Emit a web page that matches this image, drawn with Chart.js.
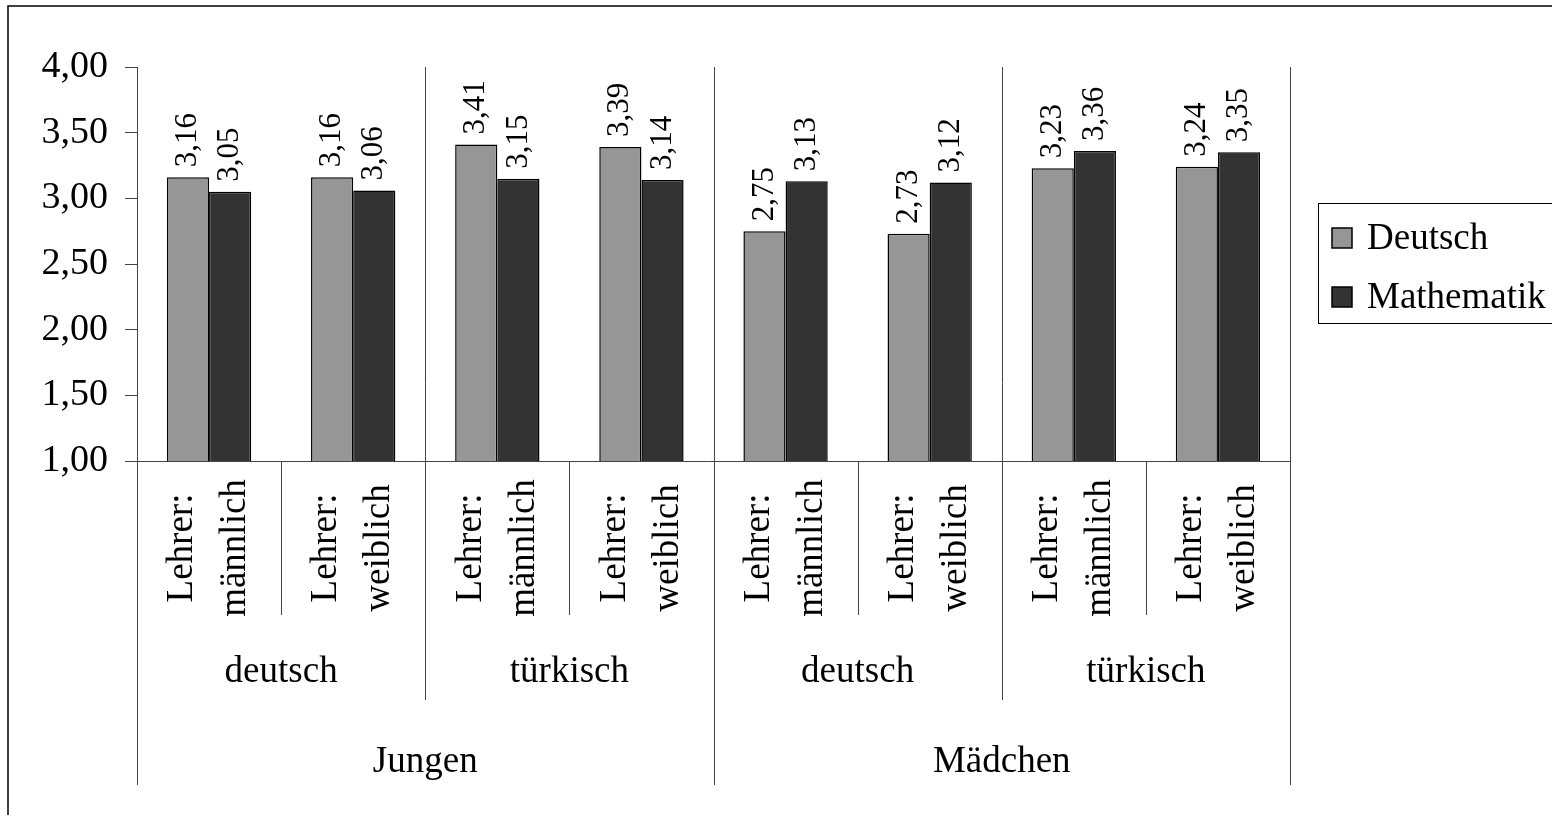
<!DOCTYPE html>
<html><head><meta charset="utf-8">
<script src="https://cdn.jsdelivr.net/npm/chart.js@4/dist/chart.umd.min.js"></script>
<style>html,body{margin:0;padding:0;background:#fff;}canvas{display:block}</style>
</head><body>
<canvas id="c" width="1552" height="815"></canvas>
<script>
// ---- data ----
const teacherLabels = [
  ['Lehrer:', 'männlich'], ['Lehrer:', 'weiblich'],
  ['Lehrer:', 'männlich'], ['Lehrer:', 'weiblich'],
  ['Lehrer:', 'männlich'], ['Lehrer:', 'weiblich'],
  ['Lehrer:', 'männlich'], ['Lehrer:', 'weiblich']
];
const originGroups = ['deutsch', 'türkisch', 'deutsch', 'türkisch'];
const genderGroups = ['Jungen', 'Mädchen'];
const seriesNames = ['Deutsch', 'Mathematik'];
const deutschValues = [3.16, 3.16, 3.41, 3.39, 2.75, 2.73, 3.23, 3.24];
const matheValues   = [3.05, 3.06, 3.15, 3.14, 3.13, 3.12, 3.36, 3.35];
const yMin = 1, yMax = 4, yStep = 0.5;

const FONT = '"Liberation Serif", "Times New Roman", serif';
const fmt = v => v.toFixed(2).replace('.', ',');
const colors = ['#969696', '#333333'];
const lineCol = '#444444';

const overlay = {
  id: 'overlay',
  afterDraw(chart) {
    const ctx = chart.ctx, ca = chart.chartArea;
    const xs = chart.scales.x;
    const n = teacherLabels.length;
    const bx = i => {
      if (i <= 0) return ca.left;
      if (i >= n) return ca.right;
      return (xs.getPixelForValue(i - 1) + xs.getPixelForValue(i)) / 2;
    };
    const yL1 = 615, yL2 = 700, yL3 = 785;
    ctx.save();
    // outer border
    ctx.strokeStyle = '#000'; ctx.lineWidth = 1.5;
    ctx.beginPath(); ctx.moveTo(8, 815); ctx.lineTo(8, 6); ctx.lineTo(1552, 6); ctx.stroke();
    // axis lines & separators
    ctx.strokeStyle = lineCol; ctx.lineWidth = 1;
    const vline = (x, y0, y1) => { x = Math.round(x) + 0.5; ctx.beginPath(); ctx.moveTo(x, y0); ctx.lineTo(x, y1); ctx.stroke(); };
    vline(ca.left, ca.top, yL3);
    vline(ca.right, ca.top, yL3);
    for (let i = 1; i < n; i++) {
      if (i % 4 === 0) vline(bx(i), ca.top, yL3);
      else if (i % 2 === 0) vline(bx(i), ca.top, yL2);
      else vline(bx(i), ca.bottom, yL1);
    }
    const yb = Math.round(ca.bottom) + 0.5;
    ctx.beginPath(); ctx.moveTo(ca.left - 12, yb); ctx.lineTo(ca.right, yb); ctx.stroke();

    // level 1 labels (rotated)
    ctx.fillStyle = '#000';
    ctx.font = '37px ' + FONT;
    ctx.textAlign = 'center'; ctx.textBaseline = 'middle';
    teacherLabels.forEach((lines, i) => {
      const cx = xs.getPixelForValue(i);
      ctx.save();
      ctx.translate(cx, 548);
      ctx.rotate(-Math.PI / 2);
      lines.forEach((t, k) => ctx.fillText(t, 0, (k - (lines.length - 1) / 2) * 53));
      ctx.restore();
    });
    // level 2
    originGroups.forEach((t, g) => {
      ctx.fillText(t, (bx(g * 2) + bx(g * 2 + 2)) / 2, 672);
    });
    // level 3
    genderGroups.forEach((t, g) => {
      ctx.fillText(t, (bx(g * 4) + bx(g * 4 + 4)) / 2, 762);
    });

    // data labels
    ctx.font = '31px ' + FONT;
    ctx.textAlign = 'left'; ctx.textBaseline = 'middle';
    chart.data.datasets.forEach((ds, di) => {
      const meta = chart.getDatasetMeta(di);
      meta.data.forEach((el, i) => {
        ctx.save();
        ctx.translate(el.x, el.y - 10);
        ctx.rotate(-Math.PI / 2);
        ctx.fillText(fmt(ds.data[i]), 0, 0);
        ctx.restore();
      });
    });

    // legend
    ctx.strokeStyle = '#000'; ctx.lineWidth = 1;
    ctx.strokeRect(1318.5, 203.5, 240, 120);
    ctx.font = '37px ' + FONT;
    chart.data.datasets.forEach((ds, di) => {
      const cy = 238 + di * 59;
      ctx.fillStyle = ds.backgroundColor;
      ctx.fillRect(1332, cy - 10, 20, 20);
      ctx.lineWidth = 1.5; ctx.strokeStyle = '#000';
      ctx.strokeRect(1332, cy - 10, 20, 20);
      ctx.fillStyle = '#000';
      ctx.fillText(ds.label, 1367, cy + 1);
    });
    ctx.restore();
  }
};

new Chart(document.getElementById('c'), {
  type: 'bar',
  data: {
    labels: teacherLabels.map(l => l.join(' ')),
    datasets: [
      { label: seriesNames[0], data: deutschValues, backgroundColor: colors[0], borderColor: '#000', borderWidth: 1.5, borderSkipped: false },
      { label: seriesNames[1], data: matheValues, backgroundColor: colors[1], borderColor: '#000', borderWidth: 1.5, borderSkipped: false }
    ]
  },
  options: {
    responsive: false, animation: false, devicePixelRatio: 1,
    layout: { padding: { top: 67, left: 0, right: 262, bottom: 354 } },
    datasets: { bar: { categoryPercentage: 0.585, barPercentage: 1 } },
    plugins: { legend: { display: false }, tooltip: { enabled: false } },
    scales: {
      x: { display: false },
      y: {
        min: yMin, max: yMax,
        afterFit: s => { s.width = 137; },
        ticks: { stepSize: yStep, callback: v => fmt(v), color: '#000', padding: 17, font: { family: FONT, size: 38 } },
        grid: { display: true, drawOnChartArea: false, drawTicks: true, tickLength: 12, color: lineCol, lineWidth: 1 },
        border: { display: true, color: lineCol, width: 1 }
      }
    }
  },
  plugins: [overlay]
});
</script>
</body></html>
